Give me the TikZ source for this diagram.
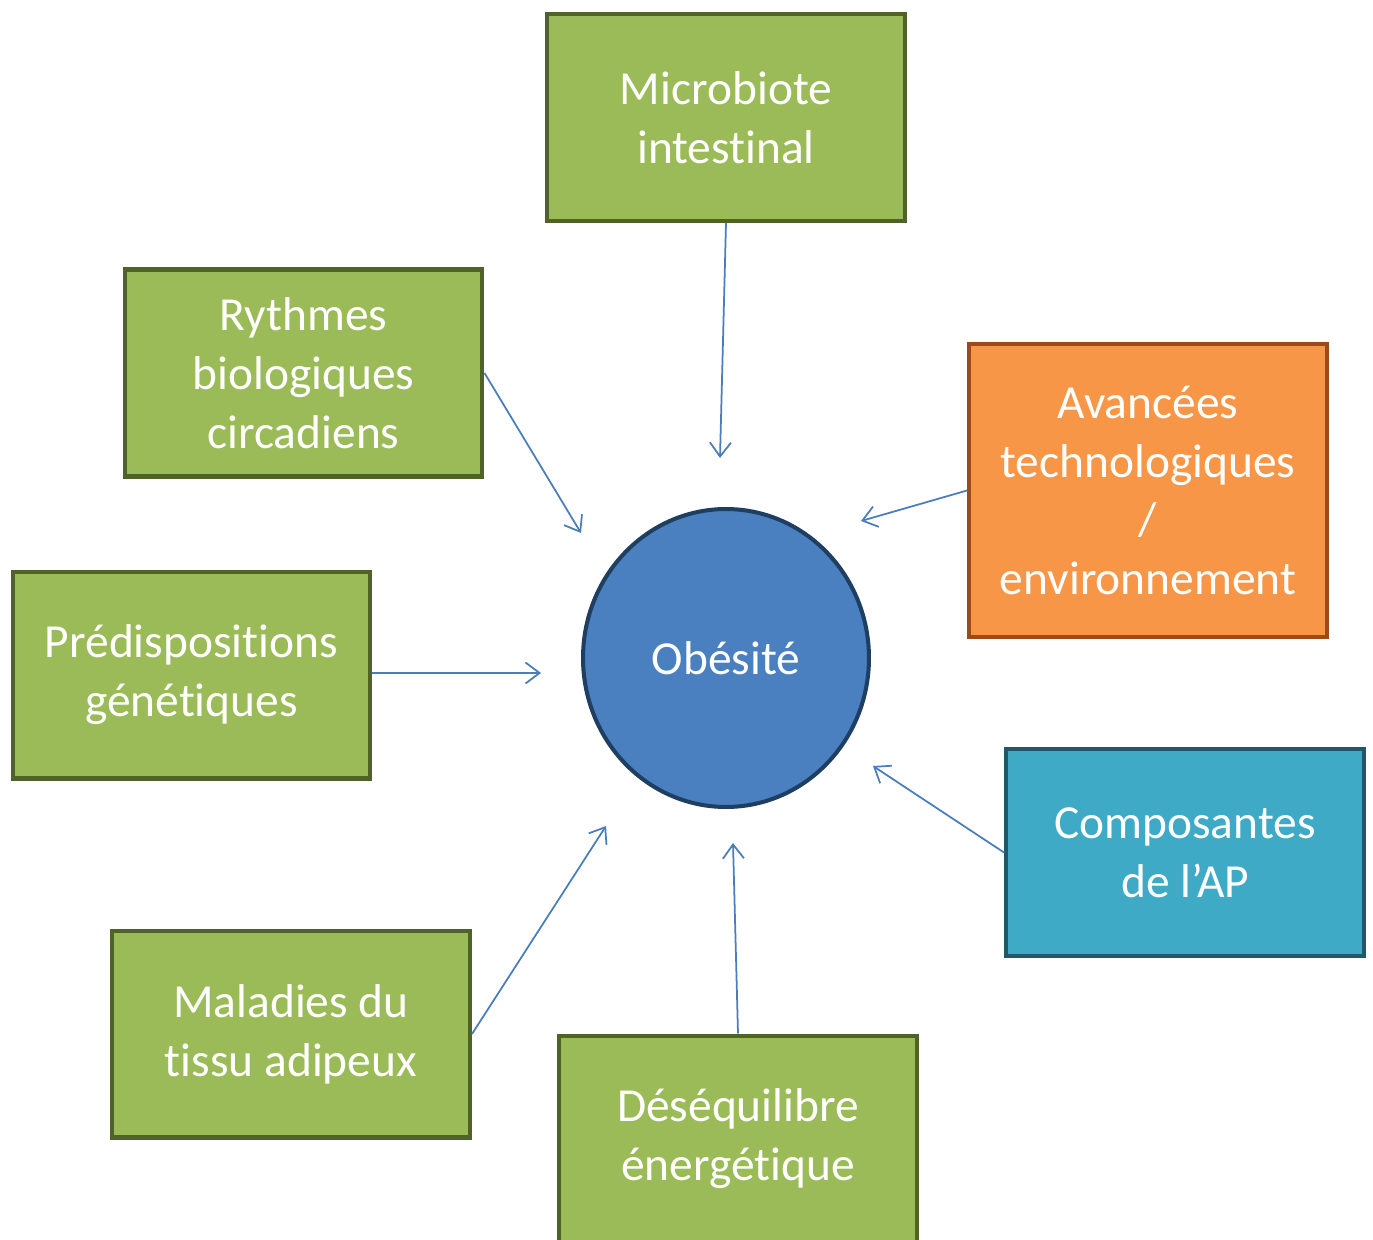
\documentclass[tikz,border=0pt]{standalone}
\usepackage{fontspec}
\setmainfont{Carlito}[Ligatures=NoCommon]
\usetikzlibrary{shapes.geometric,arrows.meta}

\definecolor{boxgreen}{HTML}{9BBB59}
\definecolor{greenline}{HTML}{4F6228}
\definecolor{boxorange}{HTML}{F79646}
\definecolor{orangeline}{HTML}{9A4A1C}
\definecolor{boxteal}{HTML}{3FAAC6}
\definecolor{tealline}{HTML}{215868}
\definecolor{circblue}{HTML}{4A80BF}
\definecolor{circline}{HTML}{1E3F62}
\definecolor{arrowblue}{HTML}{4A7EBB}

\begin{document}
\begin{tikzpicture}[x=0.02cm,y=-0.02cm,
	box/.style={draw=greenline,fill=boxgreen,line width=2.3pt,inner sep=0pt,
		minimum width=7.16cm,minimum height=4.14cm,align=center,text=white,
		font=\fontsize{27}{33.5}\selectfont},
	link/.style={arrowblue,line width=1pt,-{Straight Barb[length=8pt,width=12pt]}}]
\useasboundingbox (0,0) rectangle (1373,1240);

\node[ellipse,draw=circline,fill=circblue,line width=2.3pt,inner sep=0pt,
	minimum width=5.72cm,minimum height=5.96cm,text=white,
	font=\fontsize{27}{33.5}\selectfont](obesite) at (726,658){Obésité};

\node[box](micro) at (726,117.5){Microbiote\\intestinal};
\node[box](rythmes) at (303.5,373){Rythmes\\biologiques\\circadiens};
\node[box,fill=boxorange,draw=orangeline,minimum height=5.86cm](avancees) at (1148,490.5){Avancées\\technologiques\\/\\environnement};
\node[box](predisp) at (191.5,675){Prédispositions\\génétiques};
\node[box,fill=boxteal,draw=tealline](compos) at (1185,852.5){Composantes\\de l’AP};
\node[box](maladies) at (291,1034){Maladies du\\tissu adipeux};
\node[box](deseq) at (738,1139){Déséquilibre\\énergétique};

% free ends of the arrows, short of the circle
\coordinate(micro-t) at (720,458);
\coordinate(rythmes-t) at (581,533);
\coordinate(avancees-t) at (861,521);
\coordinate(predisp-t) at (541,673);
\coordinate(compos-t) at (873,766);
\coordinate(maladies-t) at (606,826);
\coordinate(deseq-t) at (733,843);

\draw[link](micro.south)--(micro-t);
\draw[link](deseq.north)--(deseq-t);
\foreach \x in {rythmes,maladies}
	\draw[link](\x.east)--(\x-t);
\draw[link](predisp.east|-predisp-t)--(predisp-t);
\foreach \x in {avancees,compos}
	\draw[link](\x.west)--(\x-t);

\end{tikzpicture}
\end{document}
